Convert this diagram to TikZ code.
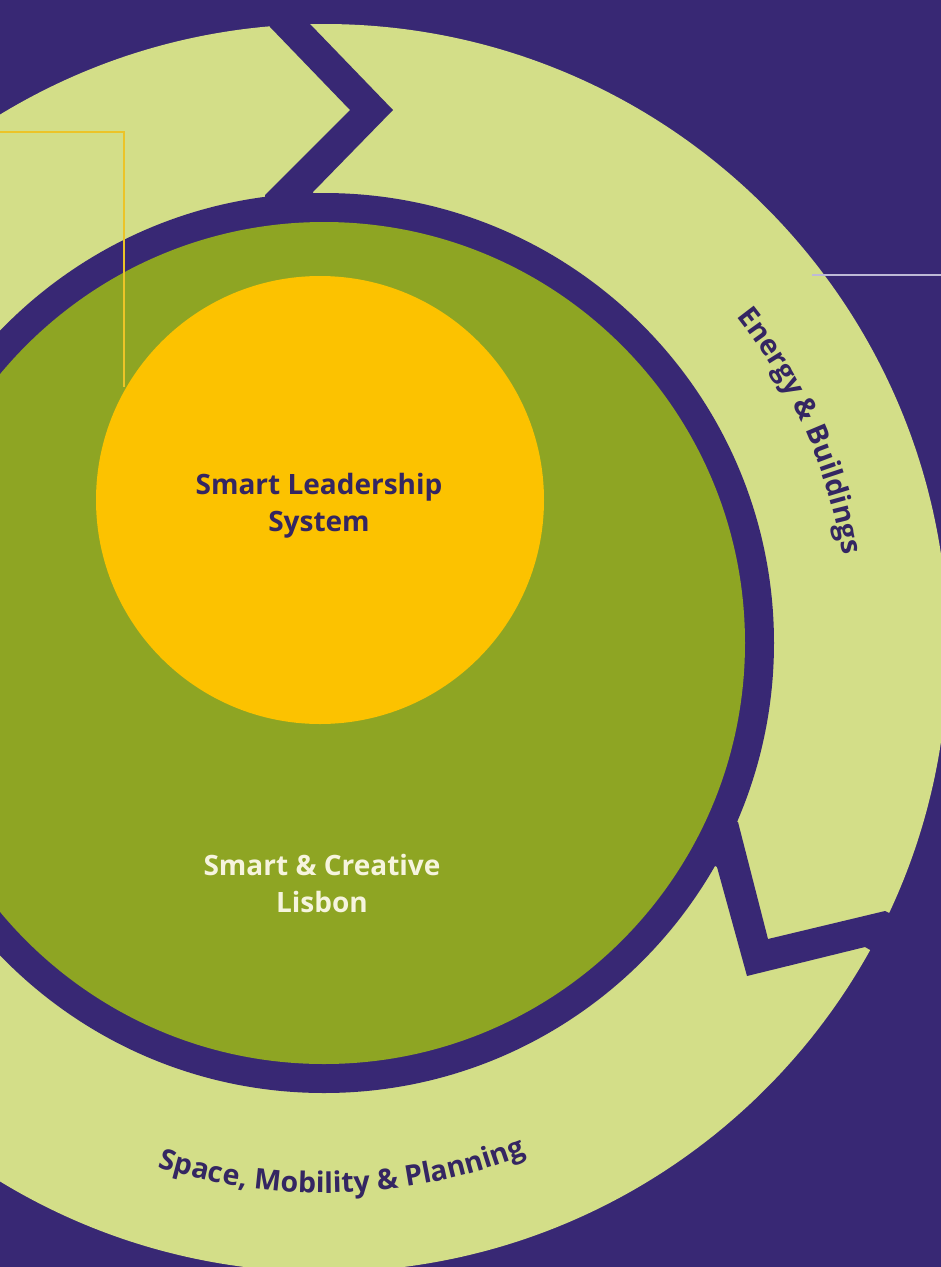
\documentclass[tikz,border=0pt]{standalone}
\usepackage{fontspec}
\setmainfont{Open Sans}
\newfontfamily\lab{Open Sans}
\usetikzlibrary{decorations.text}
\definecolor{bgpurple}{RGB}{56,40,116}
\definecolor{lightgreen}{RGB}{211,222,136}
\definecolor{olive}{RGB}{142,165,35}
\definecolor{sun}{RGB}{252,194,0}
\definecolor{ink}{RGB}{52,38,98}
\definecolor{cream}{RGB}{246,244,222}
\definecolor{hair}{RGB}{236,196,40}
\definecolor{greyline}{RGB}{190,186,214}
\begin{document}
\begin{tikzpicture}[x=1pt,y=1pt,
  labelfont/.style={font=\lab\bfseries\fontsize{28}{37}\selectfont},
  gap/.style={fill=bgpurple},
  hairline/.style={line width=1.2pt}]
\useasboundingbox (0,0) rectangle (941,-1267);
\fill[bgpurple] (0,0) rectangle (941,-1267);
\begin{scope}
\clip (0,0) rectangle (941,-1267);
% outer ring of arrows
\fill[lightgreen] (324,-648) circle[radius=624pt];
% chevron gap at the top
\fill[gap] (267,3) -- (270,-27) -- (350,-110) -- (265,-195) -- (266,-210) -- (314,-210)
  -- (313,-192) -- (393,-110) -- (310,-24) -- (309,6) -- cycle;
% chevron gap at the lower right
\fill[gap] (912,-924) -- (885,-911) -- (768,-939) -- (738,-822) -- (729,-818) -- (708,-862)
  -- (717,-867) -- (747,-976) -- (865,-947) -- (891,-962) -- cycle;
% inner discs
\fill[bgpurple] (324,-643) circle[radius=450pt];
\fill[olive] (324,-643) circle[radius=421pt];
\fill[sun] (320,-500) circle[radius=224pt];
% thin lines
\draw[hair, hairline] (0,-132) -- (124,-132) -- (124,-387);
\draw[greyline, hairline] (812,-275) -- (941,-275);
% labels
\node[labelfont, text=ink, align=center] (lead) at (319,-506) {Smart Leadership\\System};
\node[labelfont, text=cream, align=center] (city) at (322,-883) {Smart \& Creative\\Lisbon};
\begin{scope}[shift={(324,-643)}]
\path[decorate, decoration={text along path, text align=center, text color=ink,
   text={|\lab\bfseries\fontsize{28.5}{32}\selectfont|Energy {\&} Buildings}}]
   (46:526pt) arc[start angle=46, end angle=2, radius=526pt];
\path[decorate, decoration={text along path, text align=center, text color=ink,
   text={|\lab\bfseries\fontsize{28.5}{32}\selectfont|Space, Mobility {\&} Planning}}]
   (248:550pt) arc[start angle=248, end angle=296, radius=550pt];
\end{scope}
\end{scope}
\end{tikzpicture}
\end{document}
